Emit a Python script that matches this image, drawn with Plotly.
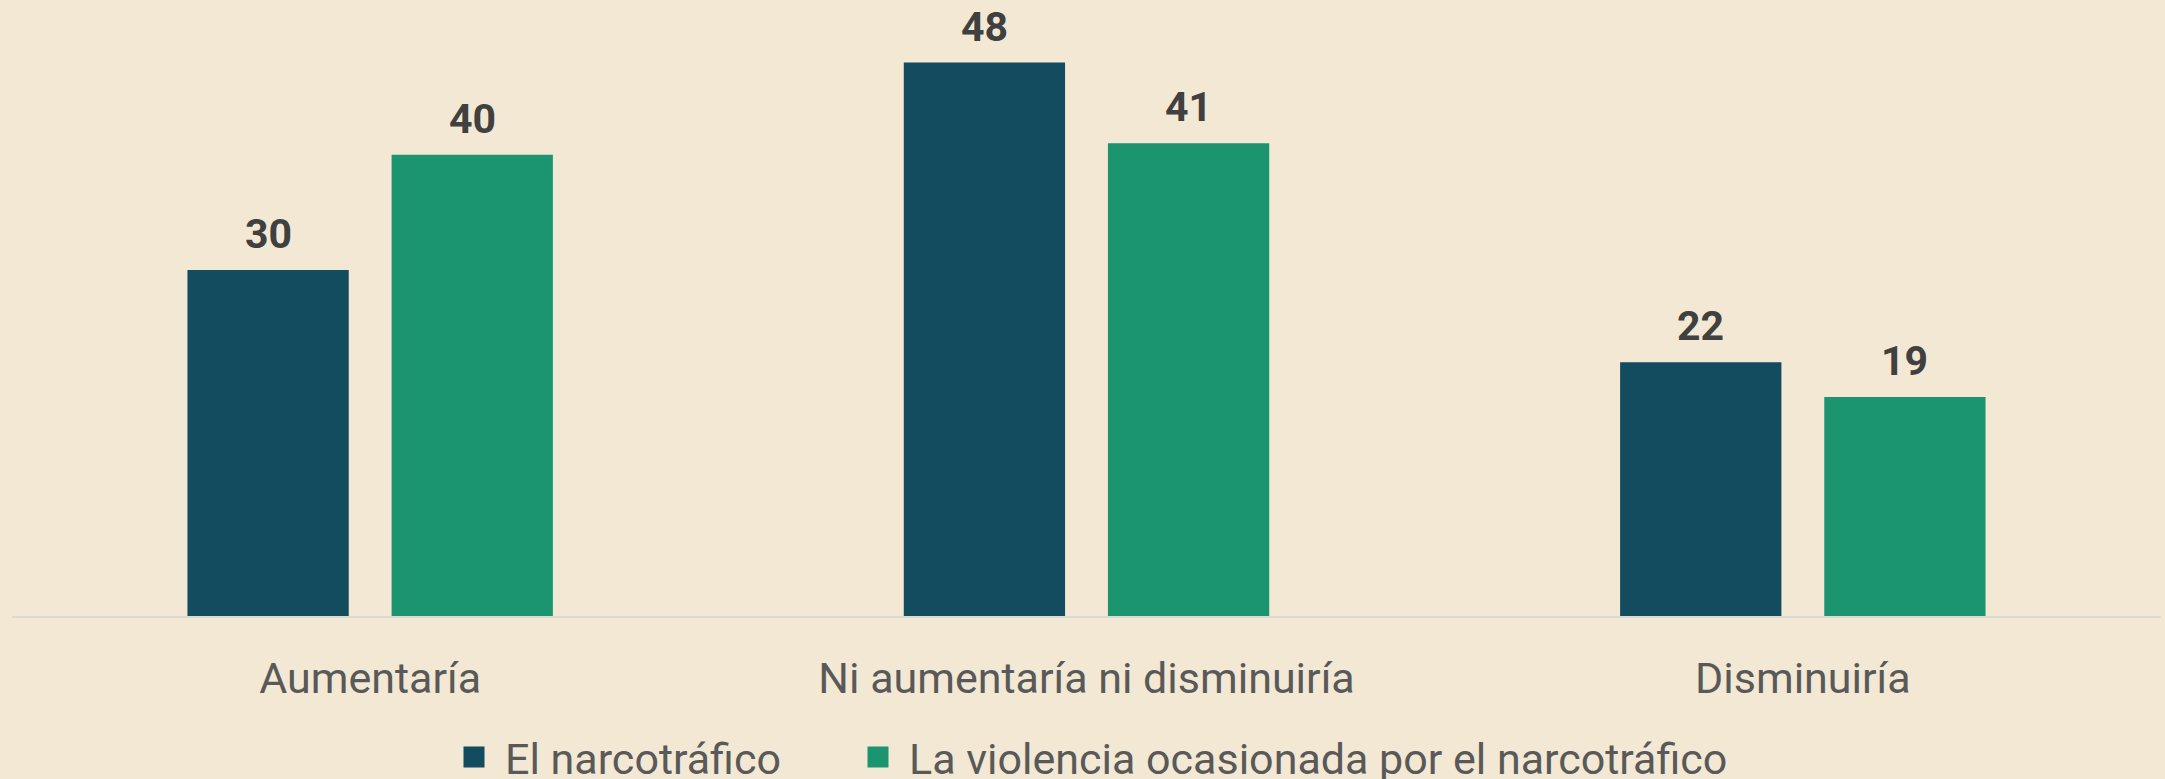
import plotly.graph_objects as go

categories = ["Aumentaría", "Ni aumentaría ni disminuiría", "Disminuiría"]
series_names = ["El narcotráfico", "La violencia ocasionada por el narcotráfico"]
narco = [30, 48, 22]
violencia = [40, 41, 19]

BG = "#F2E8D3"
C1 = "#134B5F"
C2 = "#1B9570"
LABEL = "#404040"
TICK = "#595959"
FONT = "Roboto, Arial, sans-serif"

BARGAP = 0.43
BARGROUPGAP = 0.21

fig = go.Figure()
for name, vals, col, lg in [(series_names[0], narco, C1, "legend"),
                            (series_names[1], violencia, C2, "legend2")]:
    fig.add_trace(go.Bar(
        x=categories, y=vals, name=name, marker=dict(color=col, line=dict(width=0)),
        showlegend=False, hoverinfo="x+y+name",
    ))
    # legend proxy
    fig.add_trace(go.Scatter(
        x=[None], y=[None], mode="markers", name=name, legend=lg,
        marker=dict(symbol="square", size=16, color=col, line=dict(color=col, width=5)),
        showlegend=True,
    ))

# data labels
off = (1 - BARGAP) / 4
for i, cat in enumerate(categories):
    for s, vals in enumerate([narco, violencia]):
        fig.add_annotation(
            x=i + (-off if s == 0 else off), y=vals[i], xref="x", yref="y",
            text=f"<b>{vals[i]}</b>", showarrow=False, yanchor="middle", yshift=36,
            font=dict(family=FONT, size=41, color=LABEL),
        )

legend_common = dict(
    orientation="h", xref="container", yref="container",
    xanchor="left", y=1 - 757 / 779, yanchor="middle",
    font=dict(family=FONT, size=43, color=TICK),
    bgcolor="rgba(0,0,0,0)", itemwidth=52,
)

fig.update_layout(
    width=2165, height=779,
    paper_bgcolor=BG, plot_bgcolor=BG,
    margin=dict(l=12, r=4, t=10, b=163),
    barmode="group", bargap=BARGAP, bargroupgap=BARGROUPGAP,
    font=dict(family=FONT, size=43, color=TICK),
    legend=dict(x=443 / 2165, **legend_common),
    legend2=dict(x=847 / 2165, **legend_common),
    xaxis=dict(
        showline=True, linecolor="#DCDAD4", linewidth=2, showgrid=False,
        ticks="", tickfont=dict(family=FONT, size=43, color=TICK),
        ticklabelstandoff=23,
    ),
    yaxis=dict(range=[0, 606 / 11.53], visible=False, showgrid=False, zeroline=False),
)

fig.write_html(
    "out.html",
    config={"displayModeBar": False},
    post_script="document.body.style.margin='0';document.body.style.background='%s';" % BG,
)
